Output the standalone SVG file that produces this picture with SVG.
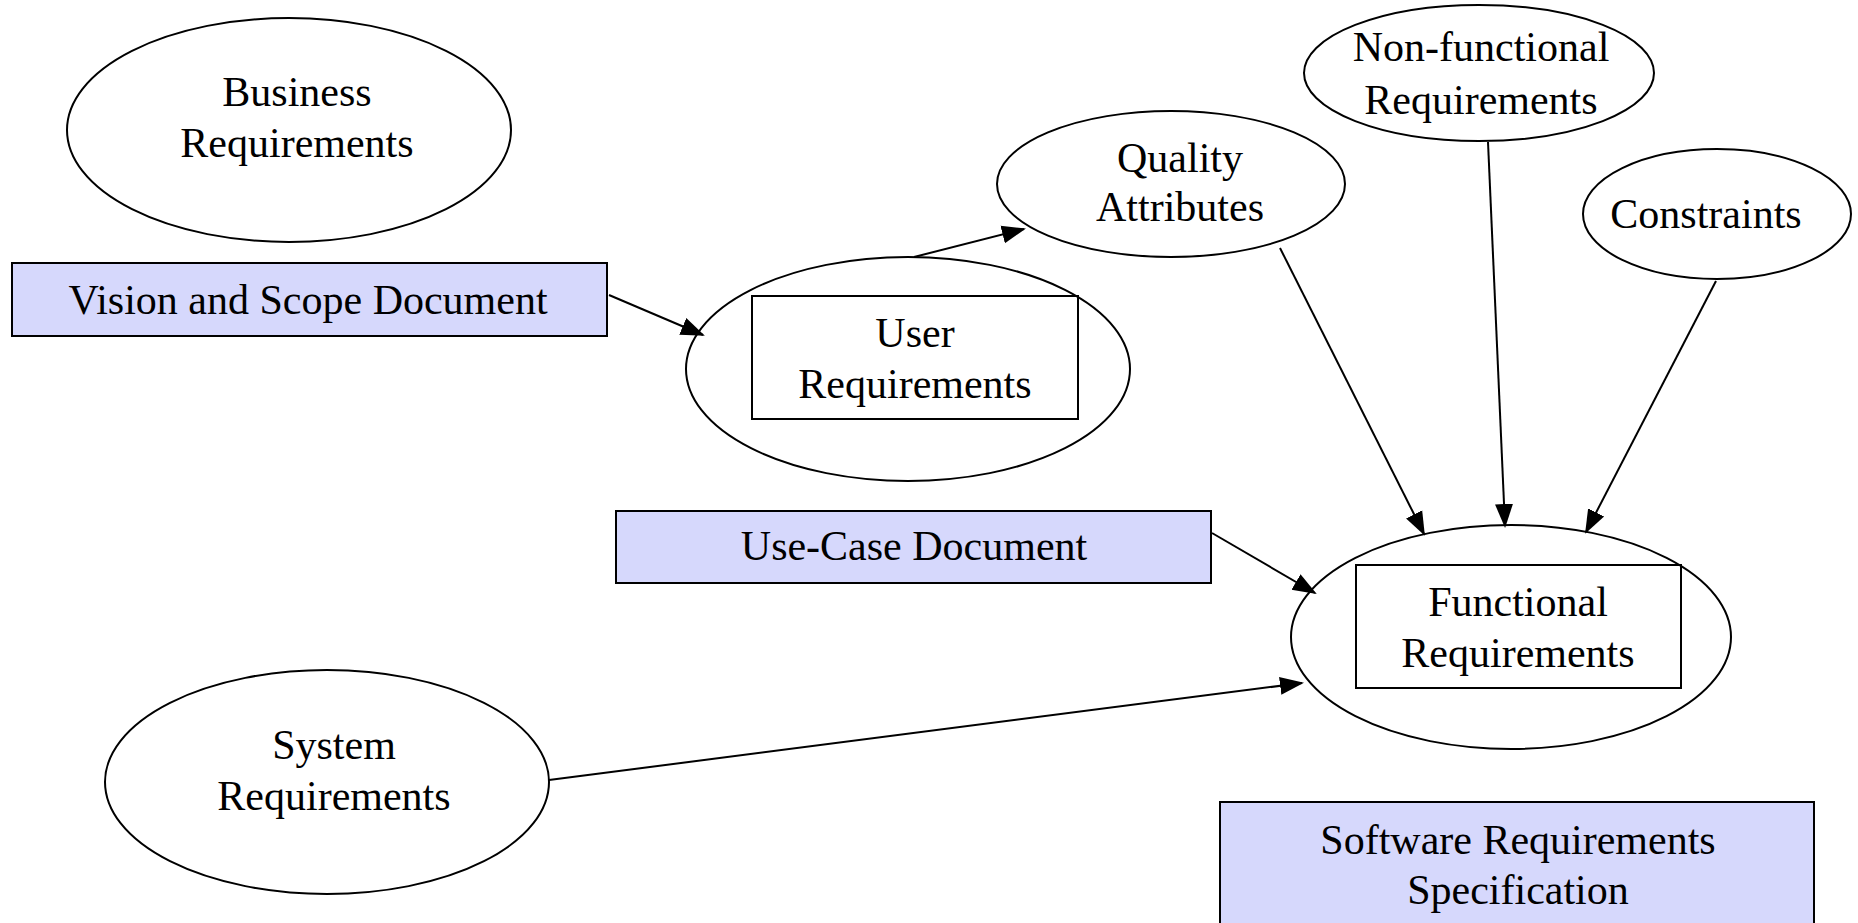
<svg xmlns="http://www.w3.org/2000/svg" width="1858" height="923" viewBox="0 0 1858 923">
  <style>
    .shape { fill: #ffffff; stroke: #000000; stroke-width: 2; }
    .doc { fill: #d6d8fc; stroke: #000000; stroke-width: 2; }
    .inner { fill: none; stroke: #000000; stroke-width: 2; }
    .label { font-family: "Liberation Serif", "Times New Roman", serif; font-size: 42px; fill: #000000; text-anchor: middle; }
    .edge { stroke: #000000; stroke-width: 2; fill: none; marker-end: url(#arrow); }
  </style>
  <defs>
    <marker id="arrow" markerUnits="userSpaceOnUse" markerWidth="24" markerHeight="20" viewBox="0 0 24 20" refX="22" refY="10" orient="auto">
      <path d="M0,1 L24,10 L0,19 Z" fill="#000000"/>
    </marker>
  </defs>
  <rect width="1858" height="923" fill="#ffffff"/>

  <g id="business-requirements">
    <ellipse class="shape" cx="289" cy="130" rx="222" ry="112"/>
    <text class="label" x="297" y="106">Business</text>
    <text class="label" x="297" y="157">Requirements</text>
  </g>

  <g id="vision-scope-document">
    <rect class="doc" x="12" y="263" width="595" height="73"/>
    <text class="label" x="308" y="314">Vision and Scope Document</text>
  </g>

  <g id="user-requirements">
    <ellipse class="shape" cx="908" cy="369" rx="222" ry="112"/>
    <rect class="inner" x="752" y="296" width="326" height="123"/>
    <text class="label" x="915" y="347">User</text>
    <text class="label" x="915" y="398">Requirements</text>
  </g>

  <g id="quality-attributes">
    <ellipse class="shape" cx="1171" cy="184" rx="174" ry="73"/>
    <text class="label" x="1180" y="172">Quality</text>
    <text class="label" x="1180" y="221">Attributes</text>
  </g>

  <g id="non-functional-requirements">
    <ellipse class="shape" cx="1479" cy="73" rx="175" ry="68"/>
    <text class="label" x="1481" y="61">Non-functional</text>
    <text class="label" x="1481" y="114">Requirements</text>
  </g>

  <g id="constraints">
    <ellipse class="shape" cx="1717" cy="214" rx="134" ry="65"/>
    <text class="label" x="1706" y="228">Constraints</text>
  </g>

  <g id="use-case-document">
    <rect class="doc" x="616" y="511" width="595" height="72"/>
    <text class="label" x="914" y="560">Use-Case Document</text>
  </g>

  <g id="functional-requirements">
    <ellipse class="shape" cx="1511" cy="637" rx="220" ry="112"/>
    <rect class="inner" x="1356" y="565" width="325" height="123"/>
    <text class="label" x="1518" y="616">Functional</text>
    <text class="label" x="1518" y="667">Requirements</text>
  </g>

  <g id="system-requirements">
    <ellipse class="shape" cx="327" cy="782" rx="222" ry="112"/>
    <text class="label" x="334" y="759">System</text>
    <text class="label" x="334" y="810">Requirements</text>
  </g>

  <g id="software-requirements-specification">
    <rect class="doc" x="1220" y="802" width="594" height="130"/>
    <text class="label" x="1518" y="854">Software Requirements</text>
    <text class="label" x="1518" y="904">Specification</text>
  </g>

  <g id="connectors">
    <line class="edge" x1="609" y1="295" x2="703" y2="335"/>
    <line class="edge" x1="914" y1="257" x2="1024" y2="229"/>
    <line class="edge" x1="1280" y1="248" x2="1424" y2="534"/>
    <line class="edge" x1="1488" y1="142" x2="1505" y2="526"/>
    <line class="edge" x1="1716" y1="281" x2="1586" y2="532"/>
    <line class="edge" x1="1212" y1="533" x2="1315" y2="593"/>
    <line class="edge" x1="549" y1="780" x2="1302" y2="683"/>
  </g>
</svg>
